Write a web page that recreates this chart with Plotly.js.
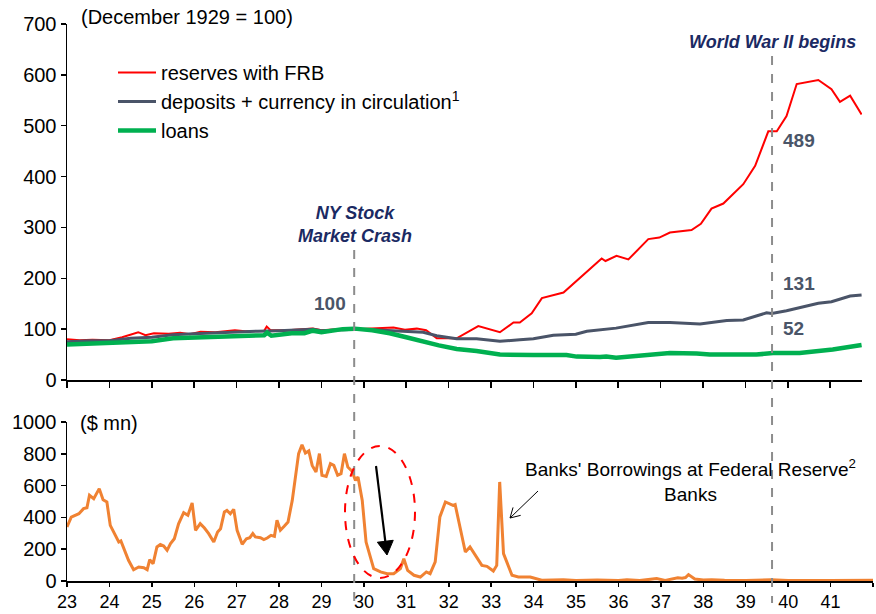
<!DOCTYPE html>
<html>
<head>
<meta charset="utf-8">
<script src="https://cdn.plot.ly/plotly-3.0.1.min.js"></script>
<style>html,body{margin:0;padding:0;background:#fff;}#chart{width:876px;height:614px;}</style>
</head>
<body>
<div id="chart"></div>
<script>
// ---- data (years as fractional 19xx) ----
const reservesX = [23.0,23.3,23.6,24.0,24.3,24.5,24.68,24.85,25.05,25.4,25.67,25.9,26.15,26.5,26.75,26.96,27.2,27.5,27.65,27.71,27.8,28.2,28.5,28.8,29.0,29.4,29.78,30.23,30.7,30.97,31.25,31.47,31.72,32.19,32.70,33.21,33.53,33.68,33.96,34.2,34.71,35.61,35.7,35.96,36.24,36.71,36.97,37.22,37.73,37.95,38.20,38.48,38.95,39.23,39.54,39.74,39.97,40.21,40.72,41.03,41.23,41.47,41.74];
const reservesY = [80,78,79,78,84,89,94,88,92,91,93,90,95,94,96,98,96,97,97,105,98,98,99,101,98,100,100,101,103,99,101,98,82,82,106,94,113,113,131,161,172,239,234,244,237,277,280,290,295,307,337,347,385,421,489,489,519,582,590,572,547,559,522];

const depositsX = [23.0,23.5,24.0,24.5,25.0,25.5,26.0,26.5,27.0,27.5,28.0,28.5,28.8,29.0,29.5,29.78,30.2,30.61,31.0,31.4,31.72,32.19,32.66,33.21,33.68,34.0,34.47,34.78,35.0,35.26,35.73,35.95,36.71,37.22,37.93,38.56,38.95,39.50,39.62,39.97,40.72,41.03,41.47,41.74];
const depositsY = [75,77,77,82,84,89,91,93,95,96,97,98,100,97,99,100,99,97,96,94,87,81,81,76,79,81,88,90,90,96,100,102,113,113,110,117,118,132,131,136,151,154,165,167];

const loansX = [23.0,23.5,24.0,24.5,25.0,25.5,26.0,26.5,26.9,27.3,27.65,27.72,27.82,28.3,28.6,28.8,29.0,29.5,29.78,30.2,30.61,31.0,31.46,31.77,32.19,32.66,33.21,33.6,34.0,34.78,35.02,35.57,35.72,35.95,36.75,37.22,37.85,38.16,39.26,39.65,40.28,41.06,41.74];
const loansY = [70,72,72,75,76,82,83,86,85,87,88,93,87,92,92,97,94,100,101,98,92,84,74,68,61,57,50,49,49,49,46,45,46,44,51,53,52,50,50,53,53,60,69];

const borrowX = [23.0,23.1,23.28,23.39,23.47,23.53,23.63,23.76,23.85,23.94,24.02,24.22,24.27,24.45,24.57,24.69,24.81,24.89,24.95,25.03,25.12,25.20,25.28,25.36,25.44,25.53,25.63,25.75,25.85,25.95,26.03,26.14,26.24,26.34,26.46,26.55,26.62,26.71,26.77,26.85,26.93,27.01,27.13,27.23,27.31,27.38,27.44,27.56,27.64,27.72,27.81,27.89,27.95,28.03,28.12,28.21,28.31,28.39,28.46,28.54,28.62,28.70,28.78,28.87,28.95,29.01,29.11,29.21,29.29,29.38,29.46,29.54,29.62,29.72,29.80,29.86,29.96,30.05,30.23,30.39,30.55,30.70,30.86,30.94,31.03,31.18,31.33,31.47,31.56,31.68,31.79,31.92,31.99,32.10,32.15,32.39,32.50,32.78,32.90,33.05,33.13,33.20,33.29,33.49,33.64,33.92,34.19,34.7,35.0,35.5,36.0,36.2,36.5,36.7,36.9,37.1,37.4,37.5,37.58,37.65,37.8,38.0,38.2,38.5,39.0,39.6,40.0,41.0,41.9,42.0];
const borrowY = [340,402,423,455,461,539,518,581,511,497,350,245,252,130,71,88,84,71,134,109,214,230,220,193,235,266,360,430,413,491,319,361,333,298,245,308,329,434,444,423,451,319,231,266,272,298,277,272,260,270,287,281,382,319,344,371,507,675,801,857,805,818,727,686,801,665,658,738,727,665,675,801,717,690,633,654,507,245,78,57,46,46,78,140,67,36,25,57,46,120,403,497,487,476,481,182,214,98,92,63,98,623,172,36,25,25,5,8,3,6,3,8,3,10,15,4,20,18,22,40,12,6,8,5,3,8,3,3,3,5];

const seriesNames = ['reserves with FRB','deposits + currency in circulation<sup>1</sup>','loans'];
const topTicks = [0,100,200,300,400,500,600,700];
const bottomTicks = [0,200,400,600,800,1000];
const yearTicks = [23,24,25,26,27,28,29,30,31,32,33,34,35,36,37,38,39,40,41,42];
const yearLabels = ['23','24','25','26','27','28','29','30','31','32','33','34','35','36','37','38','39','40','41',''];
const crashYear = 29.77, warYear = 39.62;

// ---- layout helpers (pixel -> paper) ----
const W = 876, H = 614, ML = 67, MR = 3, MT = 24, MB = 33;
const PW = W - ML - MR, PH = H - MT - MB;
const px = v => (v - ML) / PW;
const py = v => (H - MB - v) / PH;

const FONT = 'Liberation Sans, Arial, Helvetica, sans-serif';
const navy = '#1B2A63', slate = '#4A5568';

// arrow drawn as shapes (tail -> tip, in pixels)
function arrowShapes(x0, y0, x1, y1, width, headLen, filled) {
  const dx = x0 - x1, dy = y0 - y1, L = Math.hypot(dx, dy);
  const ux = dx / L, uy = dy / L, a = Math.PI / 6;
  const r = s => [ux * Math.cos(s) - uy * Math.sin(s), ux * Math.sin(s) + uy * Math.cos(s)];
  const [ax, ay] = r(a), [bx, by] = r(-a);
  const p1 = [x1 + headLen * ax, y1 + headLen * ay], p2 = [x1 + headLen * bx, y1 + headLen * by];
  const shaftEnd = filled ? [x1 + headLen * 0.8 * ux, y1 + headLen * 0.8 * uy] : [x1, y1];
  const out = [{type: 'line', xref: 'paper', yref: 'paper', x0: px(x0), y0: py(y0), x1: px(shaftEnd[0]), y1: py(shaftEnd[1]),
    line: {color: '#000', width: width}}];
  if (filled) {
    out.push({type: 'path', xref: 'paper', yref: 'paper',
      path: `M${px(x1)},${py(y1)} L${px(p1[0])},${py(p1[1])} L${px(p2[0])},${py(p2[1])} Z`,
      fillcolor: '#000', line: {color: '#000', width: 1}});
  } else {
    out.push({type: 'path', xref: 'paper', yref: 'paper',
      path: `M${px(p1[0])},${py(p1[1])} L${px(x1)},${py(y1)} L${px(p2[0])},${py(p2[1])}`,
      line: {color: '#000', width: width}});
  }
  return out;
}

const traces = [
  {x: reservesX, y: reservesY, name: seriesNames[0], type: 'scatter', mode: 'lines', line: {color: '#FF0000', width: 2}, xaxis: 'x', yaxis: 'y'},
  {x: depositsX, y: depositsY, name: seriesNames[1], type: 'scatter', mode: 'lines', line: {color: '#4A5468', width: 3}, xaxis: 'x', yaxis: 'y'},
  {x: loansX, y: loansY, name: seriesNames[2], type: 'scatter', mode: 'lines', line: {color: '#00B050', width: 4.5}, xaxis: 'x', yaxis: 'y'},
  {x: borrowX, y: borrowY, name: 'borrowings', type: 'scatter', mode: 'lines', line: {color: '#F08232', width: 3}, xaxis: 'x2', yaxis: 'y2', showlegend: false}
];

const axBase = {showgrid: false, zeroline: false, showline: true, linecolor: '#000', linewidth: 1.5,
  ticks: 'outside', ticklen: 5, tickcolor: '#000', tickwidth: 1.5, tickfont: {family: FONT, size: 20, color: '#000'}};

const layout = {
  width: W, height: H,
  margin: {l: ML, r: MR, t: MT, b: MB, pad: 0},
  paper_bgcolor: '#fff', plot_bgcolor: 'rgba(0,0,0,0)',
  font: {family: FONT, size: 20, color: '#000'},
  showlegend: true,
  legend: {x: px(113), y: py(53), xanchor: 'left', yanchor: 'top', bgcolor: 'rgba(0,0,0,0)',
    font: {family: FONT, size: 20, color: '#000'}, tracegroupgap: 0, itemwidth: 38},
  xaxis: Object.assign({}, axBase, {domain: [0, px(862)], range: [23, 41.75], anchor: 'y',
    tickvals: yearTicks, showticklabels: false, ticklen: 6}),
  yaxis: Object.assign({}, axBase, {domain: [py(380), 1], range: [0, 700], anchor: 'x', tickvals: topTicks}),
  xaxis2: Object.assign({}, axBase, {domain: [0, 1], range: [23, 42], anchor: 'y2',
    tickvals: yearTicks, ticktext: yearLabels, ticklen: 4, tickfont: {family: FONT, size: 18, color: '#000'}}),
  yaxis2: Object.assign({}, axBase, {domain: [0, py(422)], range: [0, 1000], anchor: 'x2', tickvals: bottomTicks}),
  shapes: [
    {type: 'line', xref: 'x2', yref: 'paper', x0: crashYear, x1: crashYear, y0: py(250), y1: py(603),
      line: {color: '#8C8C8C', width: 2, dash: 'dash'}},
    {type: 'line', xref: 'x2', yref: 'paper', x0: warYear, x1: warYear, y0: py(56), y1: py(603),
      line: {color: '#8C8C8C', width: 2, dash: 'dash'}},
    {type: 'circle', xref: 'paper', yref: 'paper', x0: px(345), x1: px(415), y0: py(578), y1: py(446),
      line: {color: '#FF0000', width: 2, dash: 'dash'}}
  ].concat(arrowShapes(538, 491, 510, 518, 1, 11, false), arrowShapes(376, 466, 387, 555, 2.2, 16, true)),
  annotations: [
    {xref: 'paper', yref: 'paper', x: px(79), y: py(17), xanchor: 'left', yanchor: 'middle', showarrow: false,
      text: '(December 1929 = 100)', font: {family: FONT, size: 20, color: '#000'}},
    {xref: 'paper', yref: 'paper', x: px(78), y: py(423), xanchor: 'left', yanchor: 'middle', showarrow: false,
      text: '($ mn)', font: {family: FONT, size: 20, color: '#000'}},
    {xref: 'paper', yref: 'paper', x: px(355), y: py(224), xanchor: 'center', yanchor: 'middle', showarrow: false,
      text: '<b><i>NY Stock<br>Market Crash</i></b>', font: {family: FONT, size: 18, color: navy}},
    {xref: 'paper', yref: 'paper', x: px(772), y: py(42), xanchor: 'center', yanchor: 'middle', showarrow: false,
      text: '<b><i>World War II begins</i></b>', font: {family: FONT, size: 18, color: navy}},
    {xref: 'paper', yref: 'paper', x: px(330), y: py(303), xanchor: 'center', yanchor: 'middle', showarrow: false,
      text: '<b>100</b>', font: {family: FONT, size: 19, color: slate}},
    {xref: 'paper', yref: 'paper', x: px(781), y: py(140), xanchor: 'left', yanchor: 'middle', showarrow: false,
      text: '<b>489</b>', font: {family: FONT, size: 19, color: slate}},
    {xref: 'paper', yref: 'paper', x: px(781), y: py(283), xanchor: 'left', yanchor: 'middle', showarrow: false,
      text: '<b>131</b>', font: {family: FONT, size: 19, color: slate}},
    {xref: 'paper', yref: 'paper', x: px(781), y: py(329), xanchor: 'left', yanchor: 'middle', showarrow: false,
      text: '<b>52</b>', font: {family: FONT, size: 19, color: slate}},
    {xref: 'paper', yref: 'paper', x: px(690), y: py(480), xanchor: 'center', yanchor: 'middle', showarrow: false,
      text: "Banks' Borrowings at Federal Reserve<sup>2</sup><br>Banks", font: {family: FONT, size: 19, color: '#000'}}
  ]
};

Plotly.newPlot('chart', traces, layout, {displayModeBar: false, staticPlot: true});
</script>
</body>
</html>
